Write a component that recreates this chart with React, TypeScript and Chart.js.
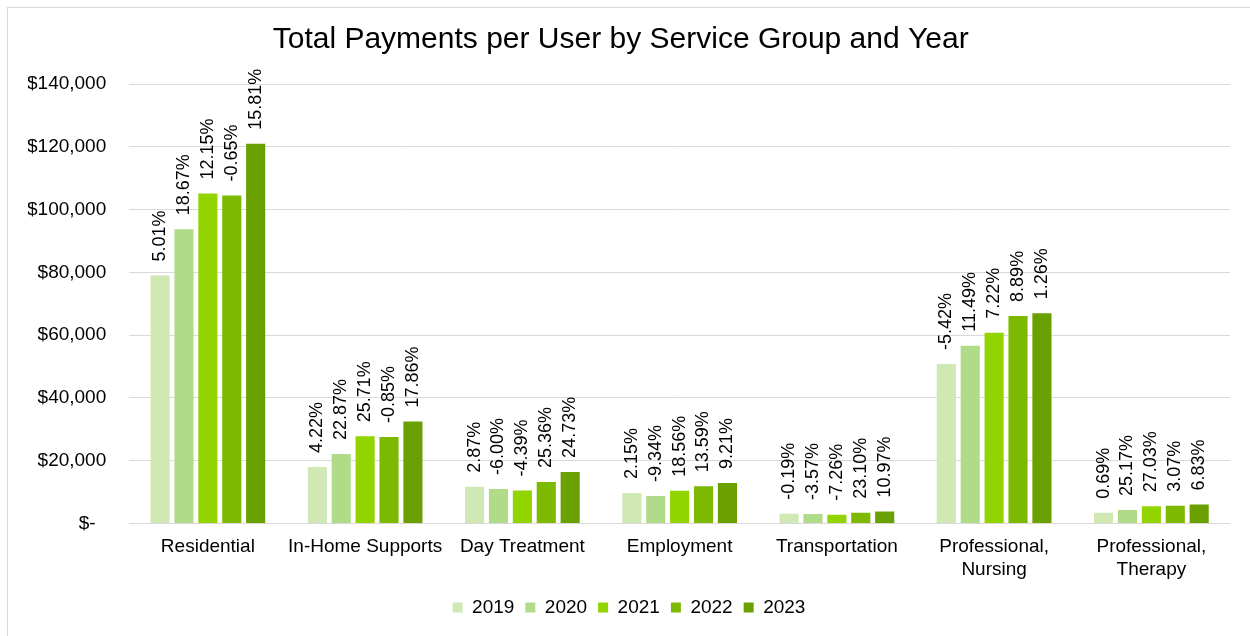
import React, { useEffect, useRef } from "react";
import { Chart, registerables } from "chart.js";

Chart.register(...registerables);

const categories: (string | string[])[] = [
  "Residential",
  "In-Home Supports",
  "Day Treatment",
  "Employment",
  "Transportation",
  ["Professional,", "Nursing"],
  ["Professional,", "Therapy"],
];

const years = ["2019", "2020", "2021", "2022", "2023"];

const values2019 = [79000, 18000, 11700, 9700, 3100, 50800, 3450];
const values2020 = [93750, 22120, 11000, 8790, 2990, 56640, 4320];
const values2021 = [105140, 27800, 10520, 10430, 2770, 60730, 5490];
const values2022 = [104460, 27570, 13180, 11840, 3410, 66130, 5650];
const values2023 = [120970, 32490, 16440, 12930, 3790, 66960, 6040];

const pct2019 = ["5.01%", "4.22%", "2.87%", "2.15%", "-0.19%", "-5.42%", "0.69%"];
const pct2020 = ["18.67%", "22.87%", "-6.00%", "-9.34%", "-3.57%", "11.49%", "25.17%"];
const pct2021 = ["12.15%", "25.71%", "-4.39%", "18.56%", "-7.26%", "7.22%", "27.03%"];
const pct2022 = ["-0.65%", "-0.85%", "25.36%", "13.59%", "23.10%", "8.89%", "3.07%"];
const pct2023 = ["15.81%", "17.86%", "24.73%", "9.21%", "10.97%", "1.26%", "6.83%"];

const yTickLabels = ["$-  ", "$20,000", "$40,000", "$60,000", "$80,000", "$100,000", "$120,000", "$140,000"];

const colors = ["#cfe8b4", "#b0dc8a", "#92d400", "#7db900", "#6aa000"];

const FONT = "'Liberation Sans', Arial, sans-serif";

const seriesValues = [values2019, values2020, values2021, values2022, values2023];
const seriesPct = [pct2019, pct2020, pct2021, pct2022, pct2023];

const pctLabelPlugin = {
  id: "pctLabels",
  afterDatasetsDraw(chart: any) {
    const ctx = chart.ctx;
    ctx.save();
    ctx.font = `18px ${FONT}`;
    ctx.fillStyle = "#000";
    ctx.textAlign = "left";
    ctx.textBaseline = "middle";
    chart.data.datasets.forEach((ds: any, i: number) => {
      const meta = chart.getDatasetMeta(i);
      meta.data.forEach((el: any, j: number) => {
        const label = ds.pctLabels[j];
        ctx.save();
        ctx.translate(el.x, el.y - 14);
        ctx.rotate(-Math.PI / 2);
        ctx.fillText(label, 0, 0);
        ctx.restore();
      });
    });
    ctx.restore();
  },
};

export default function App() {
  const ref = useRef<HTMLCanvasElement>(null);

  useEffect(() => {
    if (!ref.current) return;
    const chart = new Chart(ref.current, {
      type: "bar",
      data: {
        labels: categories,
        datasets: years.map((y, i) => ({
          label: y,
          data: seriesValues[i],
          backgroundColor: colors[i],
          borderWidth: 0,
          categoryPercentage: 0.76,
          barPercentage: 0.8,
          pctLabels: seriesPct[i],
        })) as any,
      },
      plugins: [pctLabelPlugin],
      options: {
        animation: false,
        responsive: true,
        maintainAspectRatio: false,
        layout: { padding: { top: 0, left: 20, right: 20, bottom: 9 } },
        plugins: {
          title: {
            display: true,
            text: "Total Payments per User by Service Group and Year  ",
            color: "#000",
            font: { family: FONT, size: 30, weight: "normal" },
            padding: { top: 14, bottom: 26 },
          },
          legend: {
            position: "bottom",
            labels: {
              color: "#000",
              font: { family: FONT, size: 19 },
              boxWidth: 10,
              boxHeight: 10,
              padding: 11,
            },
          },
          tooltip: { enabled: false },
        },
        scales: {
          x: {
            grid: { display: false, drawTicks: false },
            border: { display: false },
            ticks: {
              color: "#000",
              font: { family: FONT, size: 19, lineHeight: 1.25 },
              padding: 11,
              maxRotation: 0,
              autoSkip: false,
            },
            afterFit: (s: any) => {
              s.height -= 6;
            },
          },
          y: {
            min: 0,
            max: 140000,
            grid: { color: "#d9d9d9", drawTicks: false, lineWidth: 1 },
            border: { display: false },
            ticks: {
              stepSize: 20000,
              color: "#000",
              font: { family: FONT, size: 19 },
              padding: 23,
              callback: (_v: any, idx: number) => yTickLabels[idx],
            },
            afterFit: (s: any) => {
              s.width -= 24;
            },
          },
        },
      },
    });
    return () => chart.destroy();
  }, []);

  return (
    <div
      style={{
        position: "fixed",
        left: 7,
        top: 7,
        width: 1260,
        height: 640,
        border: "1px solid #d9d9d9",
        background: "#fff",
      }}
    >
      <div style={{ position: "relative", width: 1242, height: 628 }}>
        <canvas ref={ref} />
      </div>
    </div>
  );
}
